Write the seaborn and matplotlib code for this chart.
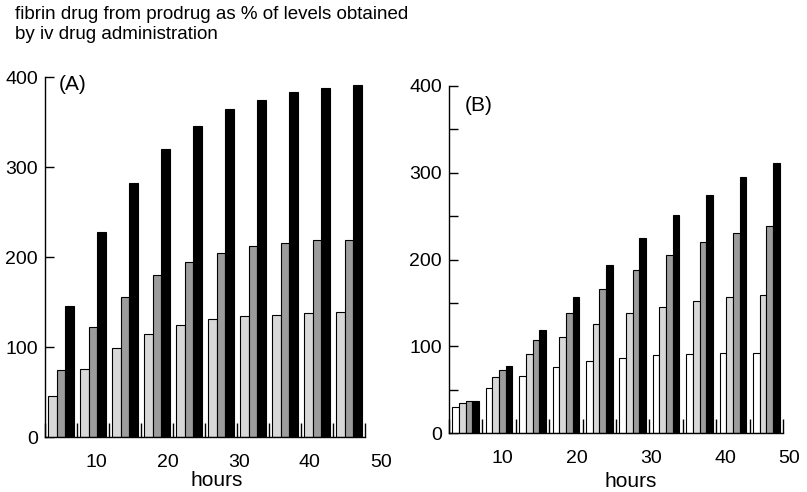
import numpy as np
import pandas as pd
import matplotlib
matplotlib.use("Agg")
import matplotlib.pyplot as plt
import seaborn as sns

# ---- data ----
hours = [5.0, 9.5, 14.0, 18.5, 23.0, 27.5, 32.0, 36.5, 41.0, 45.5]

a_low = [46, 76, 99, 115, 124, 131, 135, 136, 138, 139]
a_mid = [74, 122, 156, 180, 194, 205, 212, 216, 219, 219]
a_high = [146, 228, 282, 320, 346, 364, 375, 383, 388, 391]

b_s1 = [30, 52, 66, 76, 83, 87, 90, 91, 92, 92]
b_s2 = [35, 65, 91, 111, 126, 138, 146, 152, 157, 159]
b_s3 = [37, 73, 108, 139, 166, 188, 205, 220, 231, 239]
b_s4 = [37, 78, 119, 157, 194, 225, 251, 275, 295, 311]

x_labels = [10, 20, 30, 40, 50]
title = "fibrin drug from prodrug as % of levels obtained\nby iv drug administration"

sns.set_theme(style="white")
plt.rcParams["font.family"] = ["Liberation Sans", "DejaVu Sans"]
plt.rcParams["text.color"] = "black"
plt.rcParams["axes.labelcolor"] = "black"
plt.rcParams["xtick.color"] = "black"
plt.rcParams["ytick.color"] = "black"

def long_df(series_dict):
    rows = []
    for name, vals in series_dict.items():
        for h, v in zip(hours, vals):
            rows.append({"hours": h, "series": name, "value": v})
    return pd.DataFrame(rows)

dfA = long_df({"s1": a_low, "s2": a_mid, "s3": a_high})
dfB = long_df({"s1": b_s1, "s2": b_s2, "s3": b_s3, "s4": b_s4})

step = hours[1] - hours[0]
xmin, xmax = hours[0] - step/2, hours[-1] + step/2
xview = 50.5
bounds = [hours[0] - step/2 + step*k for k in range(len(hours)+1)]
span = xmax - xmin

fig = plt.figure(figsize=(8.07, 4.92), dpi=100)
wA = 320 * (xview - xmin) / span
wB = 334 * (xview - xmin) / span
axA = fig.add_axes([45/807, 1-437/492, wA/807, 360/492])
axB = fig.add_axes([449/807, 1-433.3/492, wB/807, 347.3/492])

light, mid, dark = "#d8d8d8", "#9c9c9c", "#000000"

sns.barplot(data=dfA, x="hours", y="value", hue="series", native_scale=True,
            palette=[light, mid, dark], edgecolor="black", linewidth=0.8,
            width=0.8, errorbar=None, legend=False, ax=axA, zorder=2)
sns.barplot(data=dfB, x="hours", y="value", hue="series", native_scale=True,
            palette=["#ffffff", light, mid, dark], edgecolor="black", linewidth=0.8,
            width=0.8, errorbar=None, legend=False, ax=axB, zorder=2)

for ax, lab, short, yminor in [(axA, "(A)", True, False), (axB, "(B)", False, True)]:
    sns.despine(ax=ax)
    for sp in ["left", "bottom"]:
        ax.spines[sp].set_linewidth(1.0)
        ax.spines[sp].set_color("black")
    # main x axis: short ticks at group centres, tall ticks at group bounds
    ax.set_xticks(hours)
    ax.set_xticklabels([])
    ax.tick_params(axis="x", which="major", bottom=True, direction="in",
                   length=5 if short else 0, width=1.0, color="black")
    ax.set_xticks(bounds, minor=True)
    ax.tick_params(axis="x", which="minor", bottom=True, direction="in",
                   length=10, width=1.0, color="black")
    ax.set_xlim(xmin, xview)
    ax.spines["bottom"].set_bounds(xmin, xmax)
    # hour labels
    sec = ax.secondary_xaxis("bottom")
    sec.set_xticks(x_labels)
    sec.set_xticklabels([str(v) for v in x_labels])
    sec.tick_params(bottom=True, length=0, pad=12, labelsize=14, labelcolor="black")
    sec.spines["bottom"].set_visible(False)
    if ax is axB:
        sec.get_xticklabels()[-1].set_horizontalalignment("right")
    ax.set_yticks([0, 100, 200, 300, 400])
    ax.set_ylim(0, 400)
    ax.tick_params(axis="y", which="major", left=True, direction="in", length=6.5,
                   width=1.0, labelsize=14, pad=5, color="black", labelcolor="black")
    if yminor:
        ax.set_yticks([50, 150, 250, 350], minor=True)
        ax.tick_params(axis="y", which="minor", left=True, direction="in",
                       length=6.5, width=1.0, color="black")
    ax.set_xlabel("hours", fontsize=15, color="black")
    ax.set_ylabel("")
    ax.grid(False)
    ax.text(0.041 if ax is axA else 0.045, 1.005 if ax is axA else 0.97, lab,
            transform=ax.transAxes, fontsize=15, va="top", ha="left", color="black")

axA.xaxis.set_label_coords(0.506, -0.095)
axB.xaxis.set_label_coords(0.5135, -0.112)

fig.text(0.019, 0.988, title, fontsize=13.5, va="top", ha="left",
         linespacing=1.25, color="black")

fig.savefig("out.png", dpi=100, facecolor="white")
